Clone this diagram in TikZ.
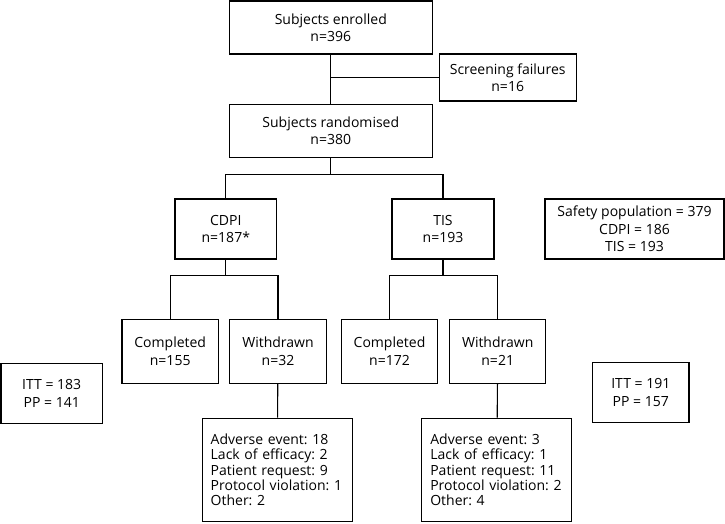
\documentclass[tikz,border=0pt]{standalone}
\usepackage{fontspec}
\setmainfont{Open Sans}
\usepackage{tikz}
\frenchspacing

\begin{document}
\begin{tikzpicture}
  [x=1pt,y=-1pt]
      \tikzstyle{box_style} = [draw=black, line width=1.1pt, align=center, inner sep=0pt, font=\fontsize{14}{17.5}\selectfont]
      \tikzstyle{list_style} = [draw=black, line width=1.1pt, align=left, inner xsep=8.4pt, inner ysep=0pt, text width=133pt, minimum height=103.5pt, font=\fontsize{14}{15.4}\selectfont]
      \tikzstyle{edge_style} = [draw=black, line width=1.1pt]
  \useasboundingbox (0,0) rectangle (725,523);
  \node[box_style, minimum width=203, minimum height=53] (n_enrol) at (330.8,27.5) {Subjects enrolled\\n=396};
  \node[box_style, minimum width=136.7, minimum height=47] (n_screen) at (507.7,77.5) {Screening failures\\n=16};
  \node[box_style, minimum width=203, minimum height=53] (n_random) at (330.8,130.7) {Subjects randomised\\n=380};
  \node[box_style, minimum width=101.7, minimum height=60] (n_cdpi) at (225.8,229) {CDPI\\n=187*};
  \node[box_style, minimum width=102, minimum height=60] (n_tis) at (443,229) {TIS\\n=193};
  \node[box_style, minimum width=179, minimum height=60] (n_safety) at (634.5,229) {Safety population = 379\\CDPI = 186\\TIS = 193};
  \node[box_style, minimum width=96.4, minimum height=64.3] (n_comp1) at (170.2,351.2) {Completed\\n=155};
  \node[box_style, minimum width=96.4, minimum height=64.3] (n_with1) at (278,351.2) {Withdrawn\\n=32};
  \node[box_style, minimum width=96.4, minimum height=64.3] (n_comp2) at (389.5,351.2) {Completed\\n=172};
  \node[box_style, minimum width=96.4, minimum height=64.3] (n_with2) at (497.7,351.2) {Withdrawn\\n=21};
  \node[box_style, minimum width=101.3, minimum height=60] (n_itt1) at (51.7,393.3) {ITT = 183\\PP = 141};
  \node[box_style, minimum width=96.3, minimum height=60] (n_itt2) at (640.8,392.7) {ITT = 191\\PP = 157};
  \node[list_style] (n_why1) at (277.2,469.8) {Adverse event: 18\\Lack of efficacy: 2\\Patient request: 9\\Protocol violation: 1\\Other: 2};
  \node[list_style] (n_why2) at (496.8,469.8) {Adverse event: 3\\Lack of efficacy: 1\\Patient request: 11\\Protocol violation: 2\\Other: 4};
  \coordinate (c_rand) at (330.8,174.7);
  \coordinate (c_cdpi) at (225.8,275.7);
  \coordinate (c_tis) at (443,275.7);
  \draw[edge_style] (n_enrol) -- (n_random);
  \draw[edge_style] (n_screen.west) -- (n_screen.west -| n_enrol.south);
  \draw[edge_style] (n_random) -- (c_rand);
  \draw[edge_style] (n_cdpi.north) |- (c_rand) -| (n_tis.north);
  \draw[edge_style] (n_cdpi) -- (c_cdpi);
  \draw[edge_style] (n_comp1.north) |- (c_cdpi) -| (n_with1.north);
  \draw[edge_style] (n_tis) -- (c_tis);
  \draw[edge_style] (n_comp2.north) |- (c_tis) -| (n_with2.north);
  \draw[edge_style] (n_with1) -- (n_why1);
  \draw[edge_style] (n_with2) -- (n_why2);
\end{tikzpicture}
\end{document}
